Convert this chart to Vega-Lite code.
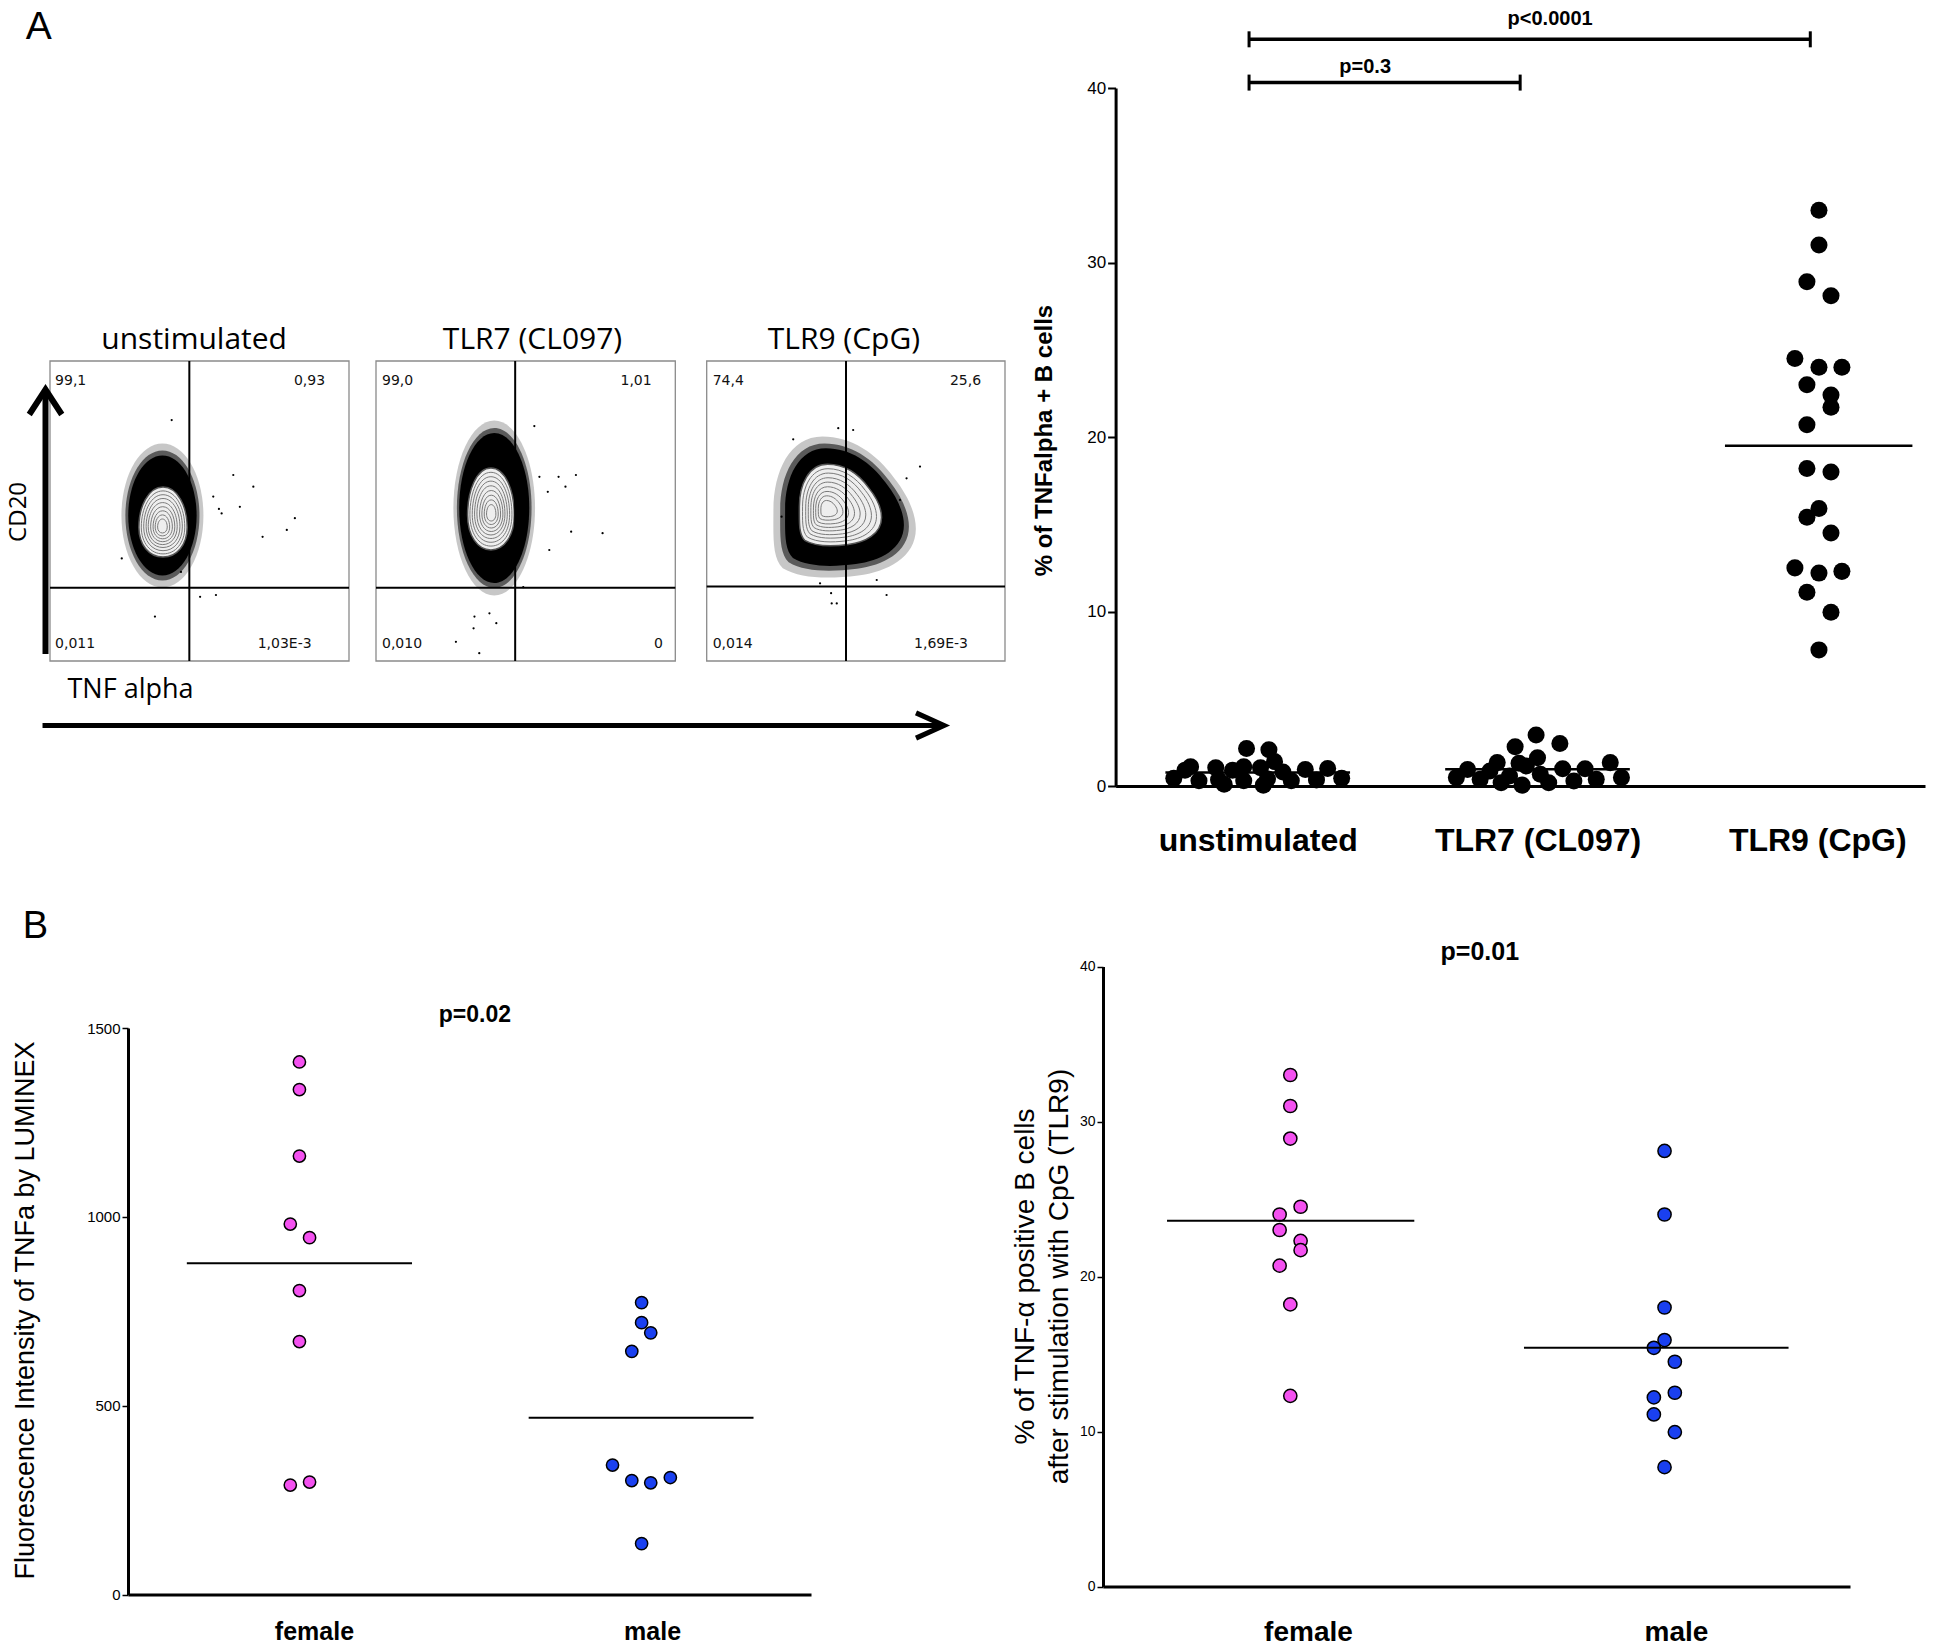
{
"$schema":"https://vega.github.io/schema/vega-lite/v6.json",
"width":1960,"height":1645,"autosize":{"type":"none"},"padding":0,"background":"white",
"config":{"view":{"stroke":null},"axis":{"grid":false,"labelColor":"black","titleColor":"black","domainColor":"black","tickColor":"black","labelLimit":600,"titleLimit":1000},"font":"Liberation Sans"},
"datasets":{
"flow":[
{"panel":"unstimulated","kind":"gate","gx":0.466,"gy":0.244},
{"panel":"TLR7 (CL097)","kind":"gate","gx":0.465,"gy":0.244},
{"panel":"TLR9 (CpG)","kind":"gate","gx":0.467,"gy":0.248},
{"panel":"unstimulated","kind":"freq","quadrant":"UL","label":"99,1"},
{"panel":"unstimulated","kind":"freq","quadrant":"UR","label":"0,93"},
{"panel":"unstimulated","kind":"freq","quadrant":"LL","label":"0,011"},
{"panel":"unstimulated","kind":"freq","quadrant":"LR","label":"1,03E-3"},
{"panel":"TLR7 (CL097)","kind":"freq","quadrant":"UL","label":"99,0"},
{"panel":"TLR7 (CL097)","kind":"freq","quadrant":"UR","label":"1,01"},
{"panel":"TLR7 (CL097)","kind":"freq","quadrant":"LL","label":"0,010"},
{"panel":"TLR7 (CL097)","kind":"freq","quadrant":"LR","label":"0"},
{"panel":"TLR9 (CpG)","kind":"freq","quadrant":"UL","label":"74,4"},
{"panel":"TLR9 (CpG)","kind":"freq","quadrant":"UR","label":"25,6"},
{"panel":"TLR9 (CpG)","kind":"freq","quadrant":"LL","label":"0,014"},
{"panel":"TLR9 (CpG)","kind":"freq","quadrant":"LR","label":"1,69E-3"},
{"panel":"unstimulated","kind":"halo","gx":0.376,"gy":0.485},
{"panel":"unstimulated","kind":"core","gx":0.378,"gy":0.463},
{"panel":"TLR7 (CL097)","kind":"halo","gx":0.395,"gy":0.51},
{"panel":"TLR7 (CL097)","kind":"core","gx":0.384,"gy":0.507},
{"panel":"TLR9 (CpG)","kind":"halo","gx":0.46,"gy":0.513},
{"panel":"TLR9 (CpG)","kind":"core","gx":0.447,"gy":0.52},
{"panel":"unstimulated","kind":"ring","ring":2,"gx":0.376,"gy":0.45},
{"panel":"unstimulated","kind":"ring","ring":3,"gx":0.376,"gy":0.452},
{"panel":"unstimulated","kind":"ring","ring":4,"gx":0.377,"gy":0.454},
{"panel":"unstimulated","kind":"ring","ring":5,"gx":0.377,"gy":0.456},
{"panel":"unstimulated","kind":"ring","ring":6,"gx":0.377,"gy":0.458},
{"panel":"unstimulated","kind":"ring","ring":7,"gx":0.378,"gy":0.46},
{"panel":"unstimulated","kind":"ring","ring":8,"gx":0.378,"gy":0.461},
{"panel":"unstimulated","kind":"ring","ring":9,"gx":0.378,"gy":0.462},
{"panel":"TLR7 (CL097)","kind":"ring","ring":2,"gx":0.385,"gy":0.494},
{"panel":"TLR7 (CL097)","kind":"ring","ring":3,"gx":0.385,"gy":0.496},
{"panel":"TLR7 (CL097)","kind":"ring","ring":4,"gx":0.385,"gy":0.498},
{"panel":"TLR7 (CL097)","kind":"ring","ring":5,"gx":0.385,"gy":0.5},
{"panel":"TLR7 (CL097)","kind":"ring","ring":6,"gx":0.384,"gy":0.502},
{"panel":"TLR7 (CL097)","kind":"ring","ring":7,"gx":0.384,"gy":0.504},
{"panel":"TLR7 (CL097)","kind":"ring","ring":8,"gx":0.384,"gy":0.505},
{"panel":"TLR7 (CL097)","kind":"ring","ring":9,"gx":0.384,"gy":0.506},
{"panel":"TLR9 (CpG)","kind":"ring","ring":2,"gx":0.41,"gy":0.508},
{"panel":"TLR9 (CpG)","kind":"ring","ring":3,"gx":0.415,"gy":0.51},
{"panel":"TLR9 (CpG)","kind":"ring","ring":4,"gx":0.42,"gy":0.511},
{"panel":"TLR9 (CpG)","kind":"ring","ring":5,"gx":0.426,"gy":0.513},
{"panel":"TLR9 (CpG)","kind":"ring","ring":6,"gx":0.431,"gy":0.515},
{"panel":"TLR9 (CpG)","kind":"ring","ring":7,"gx":0.436,"gy":0.516},
{"panel":"TLR9 (CpG)","kind":"ring","ring":8,"gx":0.441,"gy":0.518},
{"panel":"TLR9 (CpG)","kind":"ring","ring":9,"gx":0.444,"gy":0.519},
{"panel":"unstimulated","kind":"event","gx":0.407,"gy":0.803},
{"panel":"unstimulated","kind":"event","gx":0.613,"gy":0.62},
{"panel":"unstimulated","kind":"event","gx":0.68,"gy":0.581},
{"panel":"unstimulated","kind":"event","gx":0.819,"gy":0.476},
{"panel":"unstimulated","kind":"event","gx":0.792,"gy":0.437},
{"panel":"unstimulated","kind":"event","gx":0.711,"gy":0.414},
{"panel":"unstimulated","kind":"event","gx":0.635,"gy":0.514},
{"panel":"unstimulated","kind":"event","gx":0.565,"gy":0.507},
{"panel":"unstimulated","kind":"event","gx":0.546,"gy":0.548},
{"panel":"unstimulated","kind":"event","gx":0.574,"gy":0.492},
{"panel":"unstimulated","kind":"event","gx":0.502,"gy":0.214},
{"panel":"unstimulated","kind":"event","gx":0.555,"gy":0.22},
{"panel":"unstimulated","kind":"event","gx":0.351,"gy":0.148},
{"panel":"unstimulated","kind":"event","gx":0.438,"gy":0.297},
{"panel":"unstimulated","kind":"event","gx":0.24,"gy":0.342},
{"panel":"TLR7 (CL097)","kind":"event","gx":0.529,"gy":0.783},
{"panel":"TLR7 (CL097)","kind":"event","gx":0.668,"gy":0.62},
{"panel":"TLR7 (CL097)","kind":"event","gx":0.61,"gy":0.614},
{"panel":"TLR7 (CL097)","kind":"event","gx":0.633,"gy":0.581},
{"panel":"TLR7 (CL097)","kind":"event","gx":0.757,"gy":0.426},
{"panel":"TLR7 (CL097)","kind":"event","gx":0.652,"gy":0.431},
{"panel":"TLR7 (CL097)","kind":"event","gx":0.579,"gy":0.37},
{"panel":"TLR7 (CL097)","kind":"event","gx":0.574,"gy":0.564},
{"panel":"TLR7 (CL097)","kind":"event","gx":0.546,"gy":0.614},
{"panel":"TLR7 (CL097)","kind":"event","gx":0.329,"gy":0.148},
{"panel":"TLR7 (CL097)","kind":"event","gx":0.379,"gy":0.159},
{"panel":"TLR7 (CL097)","kind":"event","gx":0.326,"gy":0.109},
{"panel":"TLR7 (CL097)","kind":"event","gx":0.267,"gy":0.064},
{"panel":"TLR7 (CL097)","kind":"event","gx":0.345,"gy":0.026},
{"panel":"TLR7 (CL097)","kind":"event","gx":0.492,"gy":0.246},
{"panel":"TLR7 (CL097)","kind":"event","gx":0.402,"gy":0.126},
{"panel":"TLR9 (CpG)","kind":"event","gx":0.491,"gy":0.77},
{"panel":"TLR9 (CpG)","kind":"event","gx":0.441,"gy":0.776},
{"panel":"TLR9 (CpG)","kind":"event","gx":0.29,"gy":0.739},
{"panel":"TLR9 (CpG)","kind":"event","gx":0.715,"gy":0.648},
{"panel":"TLR9 (CpG)","kind":"event","gx":0.67,"gy":0.609},
{"panel":"TLR9 (CpG)","kind":"event","gx":0.648,"gy":0.414},
{"panel":"TLR9 (CpG)","kind":"event","gx":0.603,"gy":0.22},
{"panel":"TLR9 (CpG)","kind":"event","gx":0.417,"gy":0.226},
{"panel":"TLR9 (CpG)","kind":"event","gx":0.419,"gy":0.192},
{"panel":"TLR9 (CpG)","kind":"event","gx":0.436,"gy":0.192},
{"panel":"TLR9 (CpG)","kind":"event","gx":0.251,"gy":0.481},
{"panel":"TLR9 (CpG)","kind":"event","gx":0.57,"gy":0.27},
{"panel":"TLR9 (CpG)","kind":"event","gx":0.38,"gy":0.259},
{"panel":"TLR9 (CpG)","kind":"event","gx":0.648,"gy":0.537}
],
"tnf":[
{"group":"unstimulated","pos":0.96,"pct":2.15},
{"group":"unstimulated","pos":1.04,"pct":2.08},
{"group":"unstimulated","pos":1.06,"pct":1.4},
{"group":"unstimulated","pos":0.76,"pct":1.1},
{"group":"unstimulated","pos":0.85,"pct":1.05},
{"group":"unstimulated","pos":0.95,"pct":1.1},
{"group":"unstimulated","pos":1.01,"pct":1.05},
{"group":"unstimulated","pos":1.17,"pct":0.95},
{"group":"unstimulated","pos":1.25,"pct":1.0},
{"group":"unstimulated","pos":0.74,"pct":0.9},
{"group":"unstimulated","pos":0.91,"pct":0.9},
{"group":"unstimulated","pos":1.09,"pct":0.8},
{"group":"unstimulated","pos":0.7,"pct":0.45},
{"group":"unstimulated","pos":0.79,"pct":0.3},
{"group":"unstimulated","pos":0.86,"pct":0.35},
{"group":"unstimulated","pos":0.95,"pct":0.3},
{"group":"unstimulated","pos":1.035,"pct":0.4},
{"group":"unstimulated","pos":1.12,"pct":0.3},
{"group":"unstimulated","pos":1.21,"pct":0.35},
{"group":"unstimulated","pos":1.3,"pct":0.45},
{"group":"unstimulated","pos":0.88,"pct":0.1},
{"group":"unstimulated","pos":1.02,"pct":0.05},
{"group":"TLR7 (CL097)","pos":1.995,"pct":2.92},
{"group":"TLR7 (CL097)","pos":1.92,"pct":2.25},
{"group":"TLR7 (CL097)","pos":2.08,"pct":2.44},
{"group":"TLR7 (CL097)","pos":2.0,"pct":1.62},
{"group":"TLR7 (CL097)","pos":1.856,"pct":1.34},
{"group":"TLR7 (CL097)","pos":1.934,"pct":1.3},
{"group":"TLR7 (CL097)","pos":2.26,"pct":1.34},
{"group":"TLR7 (CL097)","pos":1.75,"pct":0.95},
{"group":"TLR7 (CL097)","pos":2.09,"pct":0.99},
{"group":"TLR7 (CL097)","pos":2.17,"pct":0.99},
{"group":"TLR7 (CL097)","pos":1.96,"pct":1.15},
{"group":"TLR7 (CL097)","pos":1.83,"pct":0.86},
{"group":"TLR7 (CL097)","pos":1.71,"pct":0.48},
{"group":"TLR7 (CL097)","pos":1.795,"pct":0.38},
{"group":"TLR7 (CL097)","pos":1.87,"pct":0.19},
{"group":"TLR7 (CL097)","pos":1.945,"pct":0.05},
{"group":"TLR7 (CL097)","pos":2.04,"pct":0.19},
{"group":"TLR7 (CL097)","pos":2.13,"pct":0.29},
{"group":"TLR7 (CL097)","pos":2.21,"pct":0.38},
{"group":"TLR7 (CL097)","pos":2.3,"pct":0.48},
{"group":"TLR7 (CL097)","pos":1.9,"pct":0.57},
{"group":"TLR7 (CL097)","pos":2.01,"pct":0.67},
{"group":"TLR9 (CpG)","pos":3.006,"pct":33.0},
{"group":"TLR9 (CpG)","pos":3.006,"pct":31.0},
{"group":"TLR9 (CpG)","pos":2.963,"pct":28.9},
{"group":"TLR9 (CpG)","pos":3.049,"pct":28.1},
{"group":"TLR9 (CpG)","pos":2.92,"pct":24.5},
{"group":"TLR9 (CpG)","pos":3.006,"pct":24.0},
{"group":"TLR9 (CpG)","pos":3.088,"pct":24.0},
{"group":"TLR9 (CpG)","pos":2.963,"pct":23.0},
{"group":"TLR9 (CpG)","pos":3.049,"pct":22.4},
{"group":"TLR9 (CpG)","pos":3.049,"pct":21.7},
{"group":"TLR9 (CpG)","pos":2.963,"pct":20.7},
{"group":"TLR9 (CpG)","pos":2.963,"pct":18.2},
{"group":"TLR9 (CpG)","pos":3.049,"pct":18.0},
{"group":"TLR9 (CpG)","pos":3.006,"pct":15.9},
{"group":"TLR9 (CpG)","pos":2.963,"pct":15.4},
{"group":"TLR9 (CpG)","pos":3.049,"pct":14.5},
{"group":"TLR9 (CpG)","pos":2.92,"pct":12.5},
{"group":"TLR9 (CpG)","pos":3.006,"pct":12.2},
{"group":"TLR9 (CpG)","pos":3.088,"pct":12.3},
{"group":"TLR9 (CpG)","pos":2.963,"pct":11.1},
{"group":"TLR9 (CpG)","pos":3.049,"pct":9.96},
{"group":"TLR9 (CpG)","pos":3.006,"pct":7.8}
],
"tnfMeans":[
{"group":"unstimulated","x1":0.67,"x2":1.33,"mean":0.77},
{"group":"TLR7 (CL097)","x1":1.67,"x2":2.33,"mean":0.96},
{"group":"TLR9 (CpG)","x1":2.67,"x2":3.34,"mean":19.5}
],
"brackets":[
{"label":"p<0.0001","x1":0.969,"x2":2.975,"y":42.79,"lx":2.045,"ly":43.6},
{"label":"p=0.3","x1":0.969,"x2":1.938,"y":40.31,"lx":1.384,"ly":40.85}
],
"luminex":[
{"sex":"female","pos":0.957,"mfi":1410},
{"sex":"female","pos":0.957,"mfi":1337},
{"sex":"female","pos":0.957,"mfi":1161},
{"sex":"female","pos":0.93,"mfi":981},
{"sex":"female","pos":0.987,"mfi":945},
{"sex":"female","pos":0.957,"mfi":805},
{"sex":"female","pos":0.957,"mfi":670},
{"sex":"female","pos":0.93,"mfi":290},
{"sex":"female","pos":0.987,"mfi":298},
{"sex":"male","pos":1.969,"mfi":773},
{"sex":"male","pos":1.969,"mfi":720},
{"sex":"male","pos":1.996,"mfi":693},
{"sex":"male","pos":1.94,"mfi":644},
{"sex":"male","pos":1.883,"mfi":343},
{"sex":"male","pos":1.94,"mfi":302},
{"sex":"male","pos":1.996,"mfi":296},
{"sex":"male","pos":2.054,"mfi":310},
{"sex":"male","pos":1.969,"mfi":135}
],
"luminexMeans":[
{"sex":"female","x1":0.624,"x2":1.29,"mean":877},
{"sex":"male","x1":1.635,"x2":2.3,"mean":468}
],
"cpg":[
{"sex":"female","pos":0.952,"pct":33.0},
{"sex":"female","pos":0.952,"pct":31.0},
{"sex":"female","pos":0.952,"pct":28.9},
{"sex":"female","pos":0.98,"pct":24.5},
{"sex":"female","pos":0.923,"pct":24.0},
{"sex":"female","pos":0.923,"pct":23.0},
{"sex":"female","pos":0.98,"pct":22.3},
{"sex":"female","pos":0.98,"pct":21.7},
{"sex":"female","pos":0.923,"pct":20.7},
{"sex":"female","pos":0.952,"pct":18.2},
{"sex":"female","pos":0.952,"pct":12.3},
{"sex":"male","pos":1.969,"pct":28.1},
{"sex":"male","pos":1.969,"pct":24.0},
{"sex":"male","pos":1.969,"pct":18.0},
{"sex":"male","pos":1.969,"pct":15.9},
{"sex":"male","pos":1.94,"pct":15.4},
{"sex":"male","pos":1.997,"pct":14.5},
{"sex":"male","pos":1.997,"pct":12.5},
{"sex":"male","pos":1.94,"pct":12.2},
{"sex":"male","pos":1.94,"pct":11.1},
{"sex":"male","pos":1.997,"pct":9.96},
{"sex":"male","pos":1.969,"pct":7.7}
],
"cpgMeans":[
{"sex":"female","x1":0.617,"x2":1.289,"mean":23.6},
{"sex":"male","x1":1.587,"x2":2.306,"mean":15.4}
]
},
"layer":[
{
"data":{"name":"flow"},
"transform":[{"filter":"datum.panel == 'unstimulated'"}],
"layer":[
{"transform":[{"filter":"datum.kind == 'halo'"}],"mark":{"type":"point","shape":"M0,-1C0.315,-1 0.57,-0.552 0.57,0C0.57,0.552 0.315,1 0,1C-0.315,1 -0.57,0.552 -0.57,0C-0.57,-0.552 -0.315,-1 0,-1Z","size":20700,"filled":true,"color":"black","opacity":0.22},
 "encoding":{"x":{"field":"gx","type":"quantitative","scale":{"domain":[0,1],"range":[50,349],"nice":false,"zero":false},"axis":null},"y":{"field":"gy","type":"quantitative","scale":{"domain":[0,1],"range":[661,361],"nice":false,"zero":false},"axis":null}}},
{"transform":[{"filter":"datum.kind == 'halo'"}],"mark":{"type":"point","shape":"M0,-1C0.315,-1 0.57,-0.552 0.57,0C0.57,0.552 0.315,1 0,1C-0.315,1 -0.57,0.552 -0.57,0C-0.57,-0.552 -0.315,-1 0,-1Z","size":16900,"filled":true,"color":"black","opacity":0.55},
 "encoding":{"x":{"field":"gx","type":"quantitative","scale":{"domain":[0,1],"range":[50,349],"nice":false,"zero":false},"axis":null},"y":{"field":"gy","type":"quantitative","scale":{"domain":[0,1],"range":[661,361],"nice":false,"zero":false},"axis":null}}},
{"transform":[{"filter":"datum.kind == 'halo'"}],"mark":{"type":"point","shape":"M0,-1C0.315,-1 0.57,-0.552 0.57,0C0.57,0.552 0.315,1 0,1C-0.315,1 -0.57,0.552 -0.57,0C-0.57,-0.552 -0.315,-1 0,-1Z","size":14400,"filled":true,"color":"black","opacity":1},
 "encoding":{"x":{"field":"gx","type":"quantitative","scale":{"domain":[0,1],"range":[50,349],"nice":false,"zero":false},"axis":null},"y":{"field":"gy","type":"quantitative","scale":{"domain":[0,1],"range":[661,361],"nice":false,"zero":false},"axis":null}}},
{"transform":[{"filter":"datum.kind == 'event'"}],"mark":{"type":"circle","size":5,"color":"black","opacity":1},
 "encoding":{"x":{"field":"gx","type":"quantitative","scale":{"domain":[0,1],"range":[50,349],"nice":false,"zero":false},"axis":null},"y":{"field":"gy","type":"quantitative","scale":{"domain":[0,1],"range":[661,361],"nice":false,"zero":false},"axis":null}}},
{"transform":[{"filter":"datum.kind == 'core'"}],"mark":{"type":"point","shape":"M0,-1C0.42,-1 0.69,-0.45 0.69,0.15C0.69,0.65 0.4,1 0,1C-0.4,1 -0.69,0.65 -0.69,0.15C-0.69,-0.45 -0.42,-1 0,-1Z","size":4900,"filled":true,"fill":"#eeeeee","stroke":"#555555","strokeWidth":1.5,"opacity":1},
 "encoding":{"x":{"field":"gx","type":"quantitative","scale":{"domain":[0,1],"range":[50,349],"nice":false,"zero":false},"axis":null},"y":{"field":"gy","type":"quantitative","scale":{"domain":[0,1],"range":[661,361],"nice":false,"zero":false},"axis":null}}},
{"transform":[{"filter":"datum.kind == 'ring'"}],"mark":{"type":"point","shape":"M0,-1C0.42,-1 0.69,-0.45 0.69,0.15C0.69,0.65 0.4,1 0,1C-0.4,1 -0.69,0.65 -0.69,0.15C-0.69,-0.45 -0.42,-1 0,-1Z","filled":false,"stroke":"#7a7a7a","strokeWidth":1,"opacity":1},
 "encoding":{"x":{"field":"gx","type":"quantitative","scale":{"domain":[0,1],"range":[50,349],"nice":false,"zero":false},"axis":null},"y":{"field":"gy","type":"quantitative","scale":{"domain":[0,1],"range":[661,361],"nice":false,"zero":false},"axis":null},
 "size":{"field":"ring","type":"quantitative","scale":{"type":"pow","exponent":2,"domain":[0,10],"range":[0,4900]},"legend":null}}},
{"transform":[{"filter":"datum.kind == 'gate'"}],"mark":{"type":"rect","fill":"white","fillOpacity":0,"stroke":"#8a8a8a","strokeWidth":1.3},
 "encoding":{"x":{"datum":0,"type":"quantitative","scale":{"domain":[0,1],"range":[50,349],"nice":false,"zero":false},"axis":null},"x2":{"datum":1},"y":{"datum":0,"type":"quantitative","scale":{"domain":[0,1],"range":[661,361],"nice":false,"zero":false},"axis":null},"y2":{"datum":1}}},
{"transform":[{"filter":"datum.kind == 'gate'"}],"mark":{"type":"rule","color":"black","strokeWidth":2},
 "encoding":{"x":{"field":"gx","type":"quantitative","scale":{"domain":[0,1],"range":[50,349],"nice":false,"zero":false},"axis":null},"y":{"datum":0,"type":"quantitative","scale":{"domain":[0,1],"range":[661,361],"nice":false,"zero":false},"axis":null},"y2":{"datum":1}}},
{"transform":[{"filter":"datum.kind == 'gate'"}],"mark":{"type":"rule","color":"black","strokeWidth":2},
 "encoding":{"y":{"field":"gy","type":"quantitative","scale":{"domain":[0,1],"range":[661,361],"nice":false,"zero":false},"axis":null},"x":{"datum":0,"type":"quantitative","scale":{"domain":[0,1],"range":[50,349],"nice":false,"zero":false},"axis":null},"x2":{"datum":1}}},
{"transform":[{"filter":"datum.kind == 'gate'"}],"mark":{"type":"text","font":"Open Sans","fontSize":30,"color":"black","align":"center","baseline":"alphabetic"},
 "encoding":{"x":{"datum":0.482,"type":"quantitative","scale":{"domain":[0,1],"range":[50,349],"nice":false,"zero":false},"axis":null},"y":{"datum":1.04,"type":"quantitative","scale":{"domain":[0,1],"range":[661,361],"nice":false,"zero":false},"axis":null},"text":{"field":"panel"}}},
{"transform":[{"filter":"datum.kind == 'freq' && datum.quadrant == 'UL'"}],"mark":{"type":"text","font":"DejaVu Sans","fontSize":14,"color":"#111111","align":"left","baseline":"alphabetic"},
 "encoding":{"x":{"datum":0.017,"type":"quantitative","scale":{"domain":[0,1],"range":[50,349],"nice":false,"zero":false},"axis":null},"y":{"datum":0.92,"type":"quantitative","scale":{"domain":[0,1],"range":[661,361],"nice":false,"zero":false},"axis":null},"text":{"field":"label"}}},
{"transform":[{"filter":"datum.kind == 'freq' && datum.quadrant == 'UR'"}],"mark":{"type":"text","font":"DejaVu Sans","fontSize":14,"color":"#111111","align":"right","baseline":"alphabetic"},
 "encoding":{"x":{"datum":0.92,"type":"quantitative","scale":{"domain":[0,1],"range":[50,349],"nice":false,"zero":false},"axis":null},"y":{"datum":0.92,"type":"quantitative","scale":{"domain":[0,1],"range":[661,361],"nice":false,"zero":false},"axis":null},"text":{"field":"label"}}},
{"transform":[{"filter":"datum.kind == 'freq' && datum.quadrant == 'LL'"}],"mark":{"type":"text","font":"DejaVu Sans","fontSize":14,"color":"#111111","align":"left","baseline":"alphabetic"},
 "encoding":{"x":{"datum":0.017,"type":"quantitative","scale":{"domain":[0,1],"range":[50,349],"nice":false,"zero":false},"axis":null},"y":{"datum":0.042,"type":"quantitative","scale":{"domain":[0,1],"range":[661,361],"nice":false,"zero":false},"axis":null},"text":{"field":"label"}}},
{"transform":[{"filter":"datum.kind == 'freq' && datum.quadrant == 'LR'"}],"mark":{"type":"text","font":"DejaVu Sans","fontSize":14,"color":"#111111","align":"right","baseline":"alphabetic"},
 "encoding":{"x":{"datum":0.875,"type":"quantitative","scale":{"domain":[0,1],"range":[50,349],"nice":false,"zero":false},"axis":null},"y":{"datum":0.042,"type":"quantitative","scale":{"domain":[0,1],"range":[661,361],"nice":false,"zero":false},"axis":null},"text":{"field":"label"}}},
{"transform":[{"filter":"datum.kind == 'gate'"}],"mark":{"type":"rule","color":"black","strokeWidth":6},
 "encoding":{"x":{"datum":-0.015,"type":"quantitative","scale":{"domain":[0,1],"range":[50,349],"nice":false,"zero":false},"axis":null},"y":{"datum":0.023,"type":"quantitative","scale":{"domain":[0,1],"range":[661,361],"nice":false,"zero":false},"axis":null},"y2":{"datum":0.9}}},
{"transform":[{"filter":"datum.kind == 'gate'"}],"mark":{"type":"point","shape":"M-0.65,1L0,0L0.65,1","size":2500,"filled":false,"stroke":"black","strokeWidth":6,"opacity":1},
 "encoding":{"x":{"datum":-0.015,"type":"quantitative","scale":{"domain":[0,1],"range":[50,349],"nice":false,"zero":false},"axis":null},"y":{"datum":0.905,"type":"quantitative","scale":{"domain":[0,1],"range":[661,361],"nice":false,"zero":false},"axis":null}}},
{"transform":[{"filter":"datum.kind == 'gate'"}],"mark":{"type":"rule","color":"black","strokeWidth":5},
 "encoding":{"y":{"datum":-0.215,"type":"quantitative","scale":{"domain":[0,1],"range":[661,361],"nice":false,"zero":false},"axis":null},"x":{"datum":-0.025,"type":"quantitative","scale":{"domain":[0,1],"range":[50,349],"nice":false,"zero":false},"axis":null},"x2":{"datum":2.985}}},
{"transform":[{"filter":"datum.kind == 'gate'"}],"mark":{"type":"point","shape":"M-1,-0.45L0,0L-1,0.45","size":3136,"filled":false,"stroke":"black","strokeWidth":5,"opacity":1},
 "encoding":{"x":{"datum":2.99,"type":"quantitative","scale":{"domain":[0,1],"range":[50,349],"nice":false,"zero":false},"axis":null},"y":{"datum":-0.215,"type":"quantitative","scale":{"domain":[0,1],"range":[661,361],"nice":false,"zero":false},"axis":null}}},
{"transform":[{"filter":"datum.kind == 'gate'"}],"mark":{"type":"text","text":"CD20","font":"Open Sans","fontSize":24,"color":"black","angle":270,"align":"center","baseline":"middle"},
 "encoding":{"x":{"datum":-0.103,"type":"quantitative","scale":{"domain":[0,1],"range":[50,349],"nice":false,"zero":false},"axis":null},"y":{"datum":0.497,"type":"quantitative","scale":{"domain":[0,1],"range":[661,361],"nice":false,"zero":false},"axis":null}}},
{"transform":[{"filter":"datum.kind == 'gate'"}],"mark":{"type":"text","text":"TNF alpha","font":"Open Sans","fontSize":27,"color":"black","align":"left","baseline":"alphabetic"},
 "encoding":{"x":{"datum":0.0585,"type":"quantitative","scale":{"domain":[0,1],"range":[50,349],"nice":false,"zero":false},"axis":null},"y":{"datum":-0.123,"type":"quantitative","scale":{"domain":[0,1],"range":[661,361],"nice":false,"zero":false},"axis":null}}},
{"transform":[{"filter":"datum.kind == 'gate'"}],"mark":{"type":"text","text":"A","font":"Liberation Sans","fontSize":39,"color":"black","align":"center","baseline":"alphabetic"},
 "encoding":{"x":{"datum":-0.038,"type":"quantitative","scale":{"domain":[0,1],"range":[50,349],"nice":false,"zero":false},"axis":null},"y":{"datum":2.075,"type":"quantitative","scale":{"domain":[0,1],"range":[661,361],"nice":false,"zero":false},"axis":null}}}
]
},
{
"data":{"name":"flow"},
"transform":[{"filter":"datum.panel == 'TLR7 (CL097)'"}],
"layer":[
{"transform":[{"filter":"datum.kind == 'halo'"}],"mark":{"type":"point","shape":"M0,-1C0.258,-1 0.467,-0.552 0.467,0C0.467,0.552 0.258,1 0,1C-0.258,1 -0.467,0.552 -0.467,0C-0.467,-0.552 -0.258,-1 0,-1Z","size":30600,"filled":true,"color":"black","opacity":0.22},
 "encoding":{"x":{"field":"gx","type":"quantitative","scale":{"domain":[0,1],"range":[376,675.3],"nice":false,"zero":false},"axis":null},"y":{"field":"gy","type":"quantitative","scale":{"domain":[0,1],"range":[661,361],"nice":false,"zero":false},"axis":null}}},
{"transform":[{"filter":"datum.kind == 'halo'"}],"mark":{"type":"point","shape":"M0,-1C0.258,-1 0.467,-0.552 0.467,0C0.467,0.552 0.258,1 0,1C-0.258,1 -0.467,0.552 -0.467,0C-0.467,-0.552 -0.258,-1 0,-1Z","size":25600,"filled":true,"color":"black","opacity":0.55},
 "encoding":{"x":{"field":"gx","type":"quantitative","scale":{"domain":[0,1],"range":[376,675.3],"nice":false,"zero":false},"axis":null},"y":{"field":"gy","type":"quantitative","scale":{"domain":[0,1],"range":[661,361],"nice":false,"zero":false},"axis":null}}},
{"transform":[{"filter":"datum.kind == 'halo'"}],"mark":{"type":"point","shape":"M0,-1C0.258,-1 0.467,-0.552 0.467,0C0.467,0.552 0.258,1 0,1C-0.258,1 -0.467,0.552 -0.467,0C-0.467,-0.552 -0.258,-1 0,-1Z","size":22500,"filled":true,"color":"black","opacity":1},
 "encoding":{"x":{"field":"gx","type":"quantitative","scale":{"domain":[0,1],"range":[376,675.3],"nice":false,"zero":false},"axis":null},"y":{"field":"gy","type":"quantitative","scale":{"domain":[0,1],"range":[661,361],"nice":false,"zero":false},"axis":null}}},
{"transform":[{"filter":"datum.kind == 'event'"}],"mark":{"type":"circle","size":5,"color":"black","opacity":1},
 "encoding":{"x":{"field":"gx","type":"quantitative","scale":{"domain":[0,1],"range":[376,675.3],"nice":false,"zero":false},"axis":null},"y":{"field":"gy","type":"quantitative","scale":{"domain":[0,1],"range":[661,361],"nice":false,"zero":false},"axis":null}}},
{"transform":[{"filter":"datum.kind == 'core'"}],"mark":{"type":"point","shape":"M0,-1C0.35,-1 0.57,-0.45 0.57,0.15C0.57,0.65 0.33,1 0,1C-0.33,1 -0.57,0.65 -0.57,0.15C-0.57,-0.45 -0.35,-1 0,-1Z","size":6724,"filled":true,"fill":"#eeeeee","stroke":"#555555","strokeWidth":1.5,"opacity":1},
 "encoding":{"x":{"field":"gx","type":"quantitative","scale":{"domain":[0,1],"range":[376,675.3],"nice":false,"zero":false},"axis":null},"y":{"field":"gy","type":"quantitative","scale":{"domain":[0,1],"range":[661,361],"nice":false,"zero":false},"axis":null}}},
{"transform":[{"filter":"datum.kind == 'ring'"}],"mark":{"type":"point","shape":"M0,-1C0.35,-1 0.57,-0.45 0.57,0.15C0.57,0.65 0.33,1 0,1C-0.33,1 -0.57,0.65 -0.57,0.15C-0.57,-0.45 -0.35,-1 0,-1Z","filled":false,"stroke":"#7a7a7a","strokeWidth":1,"opacity":1},
 "encoding":{"x":{"field":"gx","type":"quantitative","scale":{"domain":[0,1],"range":[376,675.3],"nice":false,"zero":false},"axis":null},"y":{"field":"gy","type":"quantitative","scale":{"domain":[0,1],"range":[661,361],"nice":false,"zero":false},"axis":null},
 "size":{"field":"ring","type":"quantitative","scale":{"type":"pow","exponent":2,"domain":[0,10],"range":[0,6724]},"legend":null}}},
{"transform":[{"filter":"datum.kind == 'gate'"}],"mark":{"type":"rect","fill":"white","fillOpacity":0,"stroke":"#8a8a8a","strokeWidth":1.3},
 "encoding":{"x":{"datum":0,"type":"quantitative","scale":{"domain":[0,1],"range":[376,675.3],"nice":false,"zero":false},"axis":null},"x2":{"datum":1},"y":{"datum":0,"type":"quantitative","scale":{"domain":[0,1],"range":[661,361],"nice":false,"zero":false},"axis":null},"y2":{"datum":1}}},
{"transform":[{"filter":"datum.kind == 'gate'"}],"mark":{"type":"rule","color":"black","strokeWidth":2},
 "encoding":{"x":{"field":"gx","type":"quantitative","scale":{"domain":[0,1],"range":[376,675.3],"nice":false,"zero":false},"axis":null},"y":{"datum":0,"type":"quantitative","scale":{"domain":[0,1],"range":[661,361],"nice":false,"zero":false},"axis":null},"y2":{"datum":1}}},
{"transform":[{"filter":"datum.kind == 'gate'"}],"mark":{"type":"rule","color":"black","strokeWidth":2},
 "encoding":{"y":{"field":"gy","type":"quantitative","scale":{"domain":[0,1],"range":[661,361],"nice":false,"zero":false},"axis":null},"x":{"datum":0,"type":"quantitative","scale":{"domain":[0,1],"range":[376,675.3],"nice":false,"zero":false},"axis":null},"x2":{"datum":1}}},
{"transform":[{"filter":"datum.kind == 'gate'"}],"mark":{"type":"text","font":"Open Sans","fontSize":30,"color":"black","align":"center","baseline":"alphabetic"},
 "encoding":{"x":{"datum":0.523,"type":"quantitative","scale":{"domain":[0,1],"range":[376,675.3],"nice":false,"zero":false},"axis":null},"y":{"datum":1.04,"type":"quantitative","scale":{"domain":[0,1],"range":[661,361],"nice":false,"zero":false},"axis":null},"text":{"field":"panel"}}},
{"transform":[{"filter":"datum.kind == 'freq' && datum.quadrant == 'UL'"}],"mark":{"type":"text","font":"DejaVu Sans","fontSize":14,"color":"#111111","align":"left","baseline":"alphabetic"},
 "encoding":{"x":{"datum":0.02,"type":"quantitative","scale":{"domain":[0,1],"range":[376,675.3],"nice":false,"zero":false},"axis":null},"y":{"datum":0.92,"type":"quantitative","scale":{"domain":[0,1],"range":[661,361],"nice":false,"zero":false},"axis":null},"text":{"field":"label"}}},
{"transform":[{"filter":"datum.kind == 'freq' && datum.quadrant == 'UR'"}],"mark":{"type":"text","font":"DejaVu Sans","fontSize":14,"color":"#111111","align":"right","baseline":"alphabetic"},
 "encoding":{"x":{"datum":0.921,"type":"quantitative","scale":{"domain":[0,1],"range":[376,675.3],"nice":false,"zero":false},"axis":null},"y":{"datum":0.92,"type":"quantitative","scale":{"domain":[0,1],"range":[661,361],"nice":false,"zero":false},"axis":null},"text":{"field":"label"}}},
{"transform":[{"filter":"datum.kind == 'freq' && datum.quadrant == 'LL'"}],"mark":{"type":"text","font":"DejaVu Sans","fontSize":14,"color":"#111111","align":"left","baseline":"alphabetic"},
 "encoding":{"x":{"datum":0.02,"type":"quantitative","scale":{"domain":[0,1],"range":[376,675.3],"nice":false,"zero":false},"axis":null},"y":{"datum":0.042,"type":"quantitative","scale":{"domain":[0,1],"range":[661,361],"nice":false,"zero":false},"axis":null},"text":{"field":"label"}}},
{"transform":[{"filter":"datum.kind == 'freq' && datum.quadrant == 'LR'"}],"mark":{"type":"text","font":"DejaVu Sans","fontSize":14,"color":"#111111","align":"right","baseline":"alphabetic"},
 "encoding":{"x":{"datum":0.959,"type":"quantitative","scale":{"domain":[0,1],"range":[376,675.3],"nice":false,"zero":false},"axis":null},"y":{"datum":0.042,"type":"quantitative","scale":{"domain":[0,1],"range":[661,361],"nice":false,"zero":false},"axis":null},"text":{"field":"label"}}}
]
},
{
"data":{"name":"flow"},
"transform":[{"filter":"datum.panel == 'TLR9 (CpG)'"}],
"layer":[
{"transform":[{"filter":"datum.kind == 'halo'"}],"mark":{"type":"point","shape":"M-0.98,0.04C-0.98,-0.5 -0.75,-0.98 -0.3,-0.98C0.1,-0.98 0.45,-0.75 0.7,-0.4C0.9,-0.15 1,0.1 1,0.3C1,0.7 0.6,0.9 0.2,0.95C-0.2,1 -0.6,1 -0.85,0.85C-1,0.7 -0.98,0.4 -0.98,0.04Z","size":20700,"filled":true,"color":"black","opacity":0.22},
 "encoding":{"x":{"field":"gx","type":"quantitative","scale":{"domain":[0,1],"range":[706.7,1005],"nice":false,"zero":false},"axis":null},"y":{"field":"gy","type":"quantitative","scale":{"domain":[0,1],"range":[661,361],"nice":false,"zero":false},"axis":null}}},
{"transform":[{"filter":"datum.kind == 'halo'"}],"mark":{"type":"point","shape":"M-0.98,0.04C-0.98,-0.5 -0.75,-0.98 -0.3,-0.98C0.1,-0.98 0.45,-0.75 0.7,-0.4C0.9,-0.15 1,0.1 1,0.3C1,0.7 0.6,0.9 0.2,0.95C-0.2,1 -0.6,1 -0.85,0.85C-1,0.7 -0.98,0.4 -0.98,0.04Z","size":16900,"filled":true,"color":"black","opacity":0.55},
 "encoding":{"x":{"field":"gx","type":"quantitative","scale":{"domain":[0,1],"range":[706.7,1005],"nice":false,"zero":false},"axis":null},"y":{"field":"gy","type":"quantitative","scale":{"domain":[0,1],"range":[661,361],"nice":false,"zero":false},"axis":null}}},
{"transform":[{"filter":"datum.kind == 'halo'"}],"mark":{"type":"point","shape":"M-0.98,0.04C-0.98,-0.5 -0.75,-0.98 -0.3,-0.98C0.1,-0.98 0.45,-0.75 0.7,-0.4C0.9,-0.15 1,0.1 1,0.3C1,0.7 0.6,0.9 0.2,0.95C-0.2,1 -0.6,1 -0.85,0.85C-1,0.7 -0.98,0.4 -0.98,0.04Z","size":14400,"filled":true,"color":"black","opacity":1},
 "encoding":{"x":{"field":"gx","type":"quantitative","scale":{"domain":[0,1],"range":[706.7,1005],"nice":false,"zero":false},"axis":null},"y":{"field":"gy","type":"quantitative","scale":{"domain":[0,1],"range":[661,361],"nice":false,"zero":false},"axis":null}}},
{"transform":[{"filter":"datum.kind == 'event'"}],"mark":{"type":"circle","size":5,"color":"black","opacity":1},
 "encoding":{"x":{"field":"gx","type":"quantitative","scale":{"domain":[0,1],"range":[706.7,1005],"nice":false,"zero":false},"axis":null},"y":{"field":"gy","type":"quantitative","scale":{"domain":[0,1],"range":[661,361],"nice":false,"zero":false},"axis":null}}},
{"transform":[{"filter":"datum.kind == 'core'"}],"mark":{"type":"point","shape":"M-0.98,0.04C-0.98,-0.5 -0.75,-0.98 -0.3,-0.98C0.1,-0.98 0.45,-0.75 0.7,-0.4C0.9,-0.15 1,0.1 1,0.3C1,0.7 0.6,0.9 0.2,0.95C-0.2,1 -0.6,1 -0.85,0.85C-1,0.7 -0.98,0.4 -0.98,0.04Z","size":6889,"filled":true,"fill":"#eeeeee","stroke":"#555555","strokeWidth":1.5,"opacity":1},
 "encoding":{"x":{"field":"gx","type":"quantitative","scale":{"domain":[0,1],"range":[706.7,1005],"nice":false,"zero":false},"axis":null},"y":{"field":"gy","type":"quantitative","scale":{"domain":[0,1],"range":[661,361],"nice":false,"zero":false},"axis":null}}},
{"transform":[{"filter":"datum.kind == 'ring'"}],"mark":{"type":"point","shape":"M-0.98,0.04C-0.98,-0.5 -0.75,-0.98 -0.3,-0.98C0.1,-0.98 0.45,-0.75 0.7,-0.4C0.9,-0.15 1,0.1 1,0.3C1,0.7 0.6,0.9 0.2,0.95C-0.2,1 -0.6,1 -0.85,0.85C-1,0.7 -0.98,0.4 -0.98,0.04Z","filled":false,"stroke":"#7a7a7a","strokeWidth":1,"opacity":1},
 "encoding":{"x":{"field":"gx","type":"quantitative","scale":{"domain":[0,1],"range":[706.7,1005],"nice":false,"zero":false},"axis":null},"y":{"field":"gy","type":"quantitative","scale":{"domain":[0,1],"range":[661,361],"nice":false,"zero":false},"axis":null},
 "size":{"field":"ring","type":"quantitative","scale":{"type":"pow","exponent":2,"domain":[0,10],"range":[0,6889]},"legend":null}}},
{"transform":[{"filter":"datum.kind == 'gate'"}],"mark":{"type":"rect","fill":"white","fillOpacity":0,"stroke":"#8a8a8a","strokeWidth":1.3},
 "encoding":{"x":{"datum":0,"type":"quantitative","scale":{"domain":[0,1],"range":[706.7,1005],"nice":false,"zero":false},"axis":null},"x2":{"datum":1},"y":{"datum":0,"type":"quantitative","scale":{"domain":[0,1],"range":[661,361],"nice":false,"zero":false},"axis":null},"y2":{"datum":1}}},
{"transform":[{"filter":"datum.kind == 'gate'"}],"mark":{"type":"rule","color":"black","strokeWidth":2},
 "encoding":{"x":{"field":"gx","type":"quantitative","scale":{"domain":[0,1],"range":[706.7,1005],"nice":false,"zero":false},"axis":null},"y":{"datum":0,"type":"quantitative","scale":{"domain":[0,1],"range":[661,361],"nice":false,"zero":false},"axis":null},"y2":{"datum":1}}},
{"transform":[{"filter":"datum.kind == 'gate'"}],"mark":{"type":"rule","color":"black","strokeWidth":2},
 "encoding":{"y":{"field":"gy","type":"quantitative","scale":{"domain":[0,1],"range":[661,361],"nice":false,"zero":false},"axis":null},"x":{"datum":0,"type":"quantitative","scale":{"domain":[0,1],"range":[706.7,1005],"nice":false,"zero":false},"axis":null},"x2":{"datum":1}}},
{"transform":[{"filter":"datum.kind == 'gate'"}],"mark":{"type":"text","font":"Open Sans","fontSize":30,"color":"black","align":"center","baseline":"alphabetic"},
 "encoding":{"x":{"datum":0.46,"type":"quantitative","scale":{"domain":[0,1],"range":[706.7,1005],"nice":false,"zero":false},"axis":null},"y":{"datum":1.04,"type":"quantitative","scale":{"domain":[0,1],"range":[661,361],"nice":false,"zero":false},"axis":null},"text":{"field":"panel"}}},
{"transform":[{"filter":"datum.kind == 'freq' && datum.quadrant == 'UL'"}],"mark":{"type":"text","font":"DejaVu Sans","fontSize":14,"color":"#111111","align":"left","baseline":"alphabetic"},
 "encoding":{"x":{"datum":0.02,"type":"quantitative","scale":{"domain":[0,1],"range":[706.7,1005],"nice":false,"zero":false},"axis":null},"y":{"datum":0.92,"type":"quantitative","scale":{"domain":[0,1],"range":[661,361],"nice":false,"zero":false},"axis":null},"text":{"field":"label"}}},
{"transform":[{"filter":"datum.kind == 'freq' && datum.quadrant == 'UR'"}],"mark":{"type":"text","font":"DejaVu Sans","fontSize":14,"color":"#111111","align":"right","baseline":"alphabetic"},
 "encoding":{"x":{"datum":0.92,"type":"quantitative","scale":{"domain":[0,1],"range":[706.7,1005],"nice":false,"zero":false},"axis":null},"y":{"datum":0.92,"type":"quantitative","scale":{"domain":[0,1],"range":[661,361],"nice":false,"zero":false},"axis":null},"text":{"field":"label"}}},
{"transform":[{"filter":"datum.kind == 'freq' && datum.quadrant == 'LL'"}],"mark":{"type":"text","font":"DejaVu Sans","fontSize":14,"color":"#111111","align":"left","baseline":"alphabetic"},
 "encoding":{"x":{"datum":0.02,"type":"quantitative","scale":{"domain":[0,1],"range":[706.7,1005],"nice":false,"zero":false},"axis":null},"y":{"datum":0.042,"type":"quantitative","scale":{"domain":[0,1],"range":[661,361],"nice":false,"zero":false},"axis":null},"text":{"field":"label"}}},
{"transform":[{"filter":"datum.kind == 'freq' && datum.quadrant == 'LR'"}],"mark":{"type":"text","font":"DejaVu Sans","fontSize":14,"color":"#111111","align":"right","baseline":"alphabetic"},
 "encoding":{"x":{"datum":0.876,"type":"quantitative","scale":{"domain":[0,1],"range":[706.7,1005],"nice":false,"zero":false},"axis":null},"y":{"datum":0.042,"type":"quantitative","scale":{"domain":[0,1],"range":[661,361],"nice":false,"zero":false},"axis":null},"text":{"field":"label"}}}
]
},
{
"layer":[
{"data":{"name":"tnf"},"mark":{"type":"circle","size":290,"color":"black","opacity":1},
 "encoding":{
 "x":{"field":"pos","type":"quantitative","scale":{"domain":[0.492,3.385],"range":[1115.6,1925],"nice":false,"zero":false},
  "axis":{"orient":"bottom","offset":-859,"values":[1,2,3],"labelExpr":"datum.value == 1 ? 'unstimulated' : datum.value == 2 ? 'TLR7 (CL097)' : 'TLR9 (CpG)'","ticks":false,"tickSize":0,"labelPadding":64,"labelBaseline":"alphabetic","labelFontSize":32,"labelFontWeight":"bold","labelLimit":600,"labelOverlap":false,"labelFlush":false,"domainWidth":3,"title":null}},
 "y":{"field":"pct","type":"quantitative","scale":{"domain":[0,40],"range":[786,88],"nice":false,"zero":false},
  "axis":{"orient":"left","offset":-1115.6,"values":[0,10,20,30,40],"format":"d","tickSize":8,"tickWidth":2,"domainWidth":3,"labelFontSize":17,"labelPadding":2,"labelFlush":false,"labelOverlap":false,"title":"% of TNFalpha + B cells","titleFontSize":24,"titleFontWeight":"bold","titleX":-71,"titleY":440,"titleAngle":270,"titleBaseline":"middle","titleAlign":"center"}}}},
{"data":{"name":"tnfMeans"},"mark":{"type":"rule","strokeWidth":2.5,"color":"black"},
 "encoding":{"x":{"field":"x1","type":"quantitative","scale":{"domain":[0.492,3.385],"range":[1115.6,1925],"nice":false,"zero":false}},"x2":{"field":"x2"},
 "y":{"field":"mean","type":"quantitative","scale":{"domain":[0,40],"range":[786,88],"nice":false,"zero":false}}}},
{"data":{"name":"brackets"},"mark":{"type":"rule","strokeWidth":3.5,"color":"black"},
 "encoding":{"x":{"field":"x1","type":"quantitative","scale":{"domain":[0.492,3.385],"range":[1115.6,1925],"nice":false,"zero":false}},"x2":{"field":"x2"},
 "y":{"field":"y","type":"quantitative","scale":{"domain":[0,40],"range":[786,88],"nice":false,"zero":false}}}},
{"data":{"name":"brackets"},"mark":{"type":"tick","orient":"vertical","size":16,"thickness":3,"color":"black","opacity":1},
 "encoding":{"x":{"field":"x1","type":"quantitative","scale":{"domain":[0.492,3.385],"range":[1115.6,1925],"nice":false,"zero":false}},
 "y":{"field":"y","type":"quantitative","scale":{"domain":[0,40],"range":[786,88],"nice":false,"zero":false}}}},
{"data":{"name":"brackets"},"mark":{"type":"tick","orient":"vertical","size":16,"thickness":3,"color":"black","opacity":1},
 "encoding":{"x":{"field":"x2","type":"quantitative","scale":{"domain":[0.492,3.385],"range":[1115.6,1925],"nice":false,"zero":false}},
 "y":{"field":"y","type":"quantitative","scale":{"domain":[0,40],"range":[786,88],"nice":false,"zero":false}}}},
{"data":{"name":"brackets"},"mark":{"type":"text","fontWeight":"bold","fontSize":20,"font":"Liberation Sans","color":"black","align":"center","baseline":"alphabetic"},
 "encoding":{"x":{"field":"lx","type":"quantitative","scale":{"domain":[0.492,3.385],"range":[1115.6,1925],"nice":false,"zero":false}},
 "y":{"field":"ly","type":"quantitative","scale":{"domain":[0,40],"range":[786,88],"nice":false,"zero":false}},"text":{"field":"label"}}}
]
},
{
"layer":[
{"data":{"name":"luminex"},"mark":{"type":"circle","size":150,"stroke":"black","strokeWidth":1.5,"opacity":1},
 "encoding":{
 "x":{"field":"pos","type":"quantitative","scale":{"domain":[0.45,2.47],"range":[128,811],"nice":false,"zero":false},
  "axis":{"orient":"bottom","offset":-50.4,"values":[1,2],"labelExpr":"datum.value == 1 ? 'female' : 'male'","ticks":false,"tickSize":0,"labelPadding":45,"labelBaseline":"alphabetic","labelFontSize":25,"labelFontWeight":"bold","labelLimit":600,"labelOverlap":false,"labelFlush":false,"domainWidth":3,"title":null}},
 "y":{"field":"mfi","type":"quantitative","scale":{"domain":[0,1500],"range":[1594.6,1028],"nice":false,"zero":false},
  "axis":{"orient":"left","offset":-128,"values":[0,500,1000,1500],"format":"d","tickSize":6,"tickWidth":1.5,"domainWidth":3,"labelFontSize":15,"labelPadding":2,"labelFlush":false,"labelOverlap":false,"title":"Fluorescence Intensity of TNFa by LUMINEX","titleFontSize":27,"titleFontWeight":"normal","titleX":-103,"titleY":1310,"titleAngle":270,"titleBaseline":"middle","titleAlign":"center"}},
 "fill":{"field":"sex","type":"nominal","scale":{"domain":["female","male"],"range":["#f451f0","#1a40f0"]},"legend":null}}},
{"data":{"name":"luminexMeans"},"mark":{"type":"rule","strokeWidth":2,"color":"black"},
 "encoding":{"x":{"field":"x1","type":"quantitative","scale":{"domain":[0.45,2.47],"range":[128,811],"nice":false,"zero":false}},"x2":{"field":"x2"},
 "y":{"field":"mean","type":"quantitative","scale":{"domain":[0,1500],"range":[1594.6,1028],"nice":false,"zero":false}}}},
{"data":{"values":[{"label":"p=0.02","lx":1.476,"ly":1515.9}]},"mark":{"type":"text","fontWeight":"bold","fontSize":23,"font":"Liberation Sans","color":"black","align":"center","baseline":"alphabetic"},
 "encoding":{"x":{"field":"lx","type":"quantitative","scale":{"domain":[0.45,2.47],"range":[128,811],"nice":false,"zero":false}},
 "y":{"field":"ly","type":"quantitative","scale":{"domain":[0,1500],"range":[1594.6,1028],"nice":false,"zero":false}},"text":{"field":"label"}}},
{"data":{"values":[{"label":"B"}]},"mark":{"type":"text","fontSize":38,"font":"Liberation Sans","color":"black","align":"center","baseline":"alphabetic"},
 "encoding":{"x":{"datum":0.176,"type":"quantitative","scale":{"domain":[0.45,2.47],"range":[128,811],"nice":false,"zero":false}},
 "y":{"datum":1738.3,"type":"quantitative","scale":{"domain":[0,1500],"range":[1594.6,1028],"nice":false,"zero":false}},"text":{"field":"label"}}}
]
},
{
"layer":[
{"data":{"name":"cpg"},"mark":{"type":"circle","size":175,"stroke":"black","strokeWidth":1.5,"opacity":1},
 "encoding":{
 "x":{"field":"pos","type":"quantitative","scale":{"domain":[0.443,2.473],"range":[1103,1850],"nice":false,"zero":false},
  "axis":{"orient":"bottom","offset":-58.5,"values":[1,2],"labelExpr":"datum.value == 1 ? 'female' : 'male'","ticks":false,"tickSize":0,"labelPadding":53.5,"labelBaseline":"alphabetic","labelFontSize":28,"labelFontWeight":"bold","labelLimit":600,"labelOverlap":false,"labelFlush":false,"domainWidth":3,"title":null}},
 "y":{"field":"pct","type":"quantitative","scale":{"domain":[0,40],"range":[1586.5,966.5],"nice":false,"zero":false},
  "axis":{"orient":"left","offset":-1103,"values":[0,10,20,30,40],"format":"d","tickSize":6,"tickWidth":1.5,"domainWidth":3,"labelFontSize":14,"labelPadding":2,"labelFlush":false,"labelOverlap":false,"title":["% of TNF-α positive B cells","after stimulation with CpG (TLR9)"],"titleFontSize":28,"titleLineHeight":34,"titleFontWeight":"normal","titleX":-78,"titleY":1276,"titleAngle":270,"titleBaseline":"middle","titleAlign":"center"}},
 "fill":{"field":"sex","type":"nominal","scale":{"domain":["female","male"],"range":["#f451f0","#1a40f0"]},"legend":null}}},
{"data":{"name":"cpgMeans"},"mark":{"type":"rule","strokeWidth":2,"color":"black"},
 "encoding":{"x":{"field":"x1","type":"quantitative","scale":{"domain":[0.443,2.473],"range":[1103,1850],"nice":false,"zero":false}},"x2":{"field":"x2"},
 "y":{"field":"mean","type":"quantitative","scale":{"domain":[0,40],"range":[1586.5,966.5],"nice":false,"zero":false}}}},
{"data":{"values":[{"label":"p=0.01","lx":1.467,"ly":40.42}]},"mark":{"type":"text","fontWeight":"bold","fontSize":25,"font":"Liberation Sans","color":"black","align":"center","baseline":"alphabetic"},
 "encoding":{"x":{"field":"lx","type":"quantitative","scale":{"domain":[0.443,2.473],"range":[1103,1850],"nice":false,"zero":false}},
 "y":{"field":"ly","type":"quantitative","scale":{"domain":[0,40],"range":[1586.5,966.5],"nice":false,"zero":false}},"text":{"field":"label"}}}
]
}
],
"resolve":{"scale":{"x":"independent","y":"independent","size":"independent","fill":"independent"}}
}
